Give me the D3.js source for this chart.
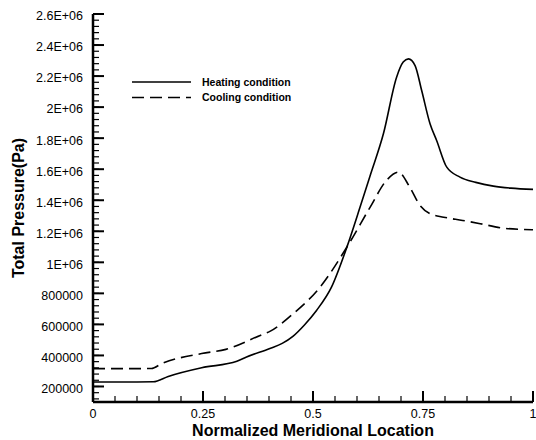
<!DOCTYPE html>
<html>
<head>
<meta charset="utf-8">
<script src="https://cdn.jsdelivr.net/npm/d3@7"></script>
<style>
	body { margin: 0; background: #fff; }
	svg { display: block; font-family: Arial, "Liberation Sans", sans-serif; }
</style>
</head>
<body>
<svg id="chart" width="536" height="440"></svg>
<script>
// location along the meridional direction (normalized)
var heatingX = [0, 0.05, 0.10, 0.137, 0.171, 0.247, 0.327, 0.349, 0.402, 0.430, 0.455, 0.480, 0.508, 0.542, 0.577, 0.607, 0.630, 0.660, 0.690, 0.705, 0.717, 0.732, 0.747, 0.766, 0.781, 0.804, 0.834, 0.870, 0.910, 0.950, 1.0];
var heatingP = [229000, 229000, 229000, 230000, 265000, 321000, 362000, 390000, 445000, 478000, 525000, 595000, 690000, 840000, 1098000, 1356000, 1560000, 1828000, 2193000, 2290000, 2311000, 2268000, 2107000, 1893000, 1785000, 1613000, 1549000, 1515000, 1491000, 1478000, 1470000];

var coolingX = [0, 0.05, 0.10, 0.133, 0.156, 0.247, 0.302, 0.380, 0.402, 0.455, 0.516, 0.577, 0.630, 0.667, 0.694, 0.720, 0.743, 0.766, 0.797, 0.840, 0.880, 0.933, 1.0];
var coolingP = [315000, 315000, 315000, 316000, 347000, 412000, 439000, 529000, 555000, 669000, 840000, 1098000, 1356000, 1528000, 1581000, 1484000, 1367000, 1313000, 1291000, 1270000, 1249000, 1220000, 1210000];

var xTicks = [0, 0.25, 0.5, 0.75, 1];
var xTickLabels = ["0", "0.25", "0.5", "0.75", "1"];
var yTicks = [200000, 400000, 600000, 800000, 1000000, 1200000, 1400000, 1600000, 1800000, 2000000, 2200000, 2400000, 2600000];
var yTickLabels = ["200000", "400000", "600000", "800000", "1E+06", "1.2E+06", "1.4E+06", "1.6E+06", "1.8E+06", "2E+06", "2.2E+06", "2.4E+06", "2.6E+06"];

var seriesNames = ["Heating condition", "Cooling condition"];

var svg = d3.select("#chart");
var margin = {left: 93, right: 3, top: 14, bottom: 38};
var width = 536, height = 440;

var x = d3.scaleLinear().domain([0, 1]).range([margin.left, width - margin.right]);
var y = d3.scaleLinear().domain([100000, 2600000]).range([height - margin.bottom, margin.top]);

// minor ticks
var xMinor = d3.range(0, 1.0001, 0.05);
var yMinor = d3.range(120000, 2600001, 40000);

var axisG = svg.append("g").attr("stroke", "#000");

axisG.selectAll(".xminor")
	.data(xMinor)
	.enter()
	.append("line")
	.attr("x1", function(d) { return x(d); })
	.attr("x2", function(d) { return x(d); })
	.attr("y1", y(100000))
	.attr("y2", y(100000) - 6)
	.attr("stroke-width", 1.2);

axisG.selectAll(".xmajor")
	.data(xTicks)
	.enter()
	.append("line")
	.attr("x1", function(d) { return x(d); })
	.attr("x2", function(d) { return x(d); })
	.attr("y1", y(100000))
	.attr("y2", y(100000) - 11)
	.attr("stroke-width", 2);

axisG.selectAll(".yminor")
	.data(yMinor)
	.enter()
	.append("line")
	.attr("x1", x(0))
	.attr("x2", x(0) + 6)
	.attr("y1", function(d) { return y(d); })
	.attr("y2", function(d) { return y(d); })
	.attr("stroke-width", 1.2);

axisG.selectAll(".ymajor")
	.data(yTicks)
	.enter()
	.append("line")
	.attr("x1", x(0))
	.attr("x2", x(0) + 11)
	.attr("y1", function(d) { return y(d); })
	.attr("y2", function(d) { return y(d); })
	.attr("stroke-width", 2);

// axis lines
axisG.append("line")
	.attr("x1", x(0)).attr("x2", x(1))
	.attr("y1", y(100000)).attr("y2", y(100000))
	.attr("stroke-width", 2.5);
axisG.append("line")
	.attr("x1", x(0)).attr("x2", x(0))
	.attr("y1", y(100000)).attr("y2", y(2600000))
	.attr("stroke-width", 2.5);

// tick labels
svg.selectAll(".xlab")
	.data(xTicks)
	.enter()
	.append("text")
	.attr("x", function(d) { return x(d); })
	.attr("y", y(100000) + 15.5)
	.attr("text-anchor", "middle")
	.attr("font-size", 12.5)
	.text(function(d, i) { return xTickLabels[i]; });

svg.selectAll(".ylab")
	.data(yTicks)
	.enter()
	.append("text")
	.attr("x", x(0) - 10)
	.attr("y", function(d) { return y(d) + 2; })
	.attr("dy", "0.35em")
	.attr("text-anchor", "end")
	.attr("font-size", 12.5)
	.text(function(d, i) { return yTickLabels[i]; });

// axis titles
svg.append("text")
	.attr("x", (x(0) + x(1)) / 2)
	.attr("y", 436)
	.attr("text-anchor", "middle")
	.attr("font-size", 16)
	.attr("font-weight", "bold")
	.text("Normalized Meridional Location");

svg.append("text")
	.attr("transform", "translate(24," + ((y(100000) + y(2600000)) / 2) + ") rotate(-90)")
	.attr("text-anchor", "middle")
	.attr("font-size", 16)
	.attr("font-weight", "bold")
	.text("Total Pressure(Pa)");

// curves
var line = d3.line()
	.x(function(d) { return x(d[0]); })
	.y(function(d) { return y(d[1]); })
	.curve(d3.curveMonotoneX);

var heating = heatingX.map(function(d, i) { return [d, heatingP[i]]; });
var cooling = coolingX.map(function(d, i) { return [d, coolingP[i]]; });

svg.append("path")
	.datum(heating)
	.attr("d", line)
	.attr("fill", "none")
	.attr("stroke", "#000")
	.attr("stroke-width", 1.6);

svg.append("path")
	.datum(cooling)
	.attr("d", line)
	.attr("fill", "none")
	.attr("stroke", "#000")
	.attr("stroke-width", 1.6)
	.attr("stroke-dasharray", "12,6");

// legend
var legend = svg.append("g");
var dashes = ["none", "12,6"];
seriesNames.forEach(function(name, i) {
	var ly = 82 + i * 15.5;
	legend.append("line")
		.attr("x1", 132).attr("x2", 191)
		.attr("y1", ly).attr("y2", ly)
		.attr("stroke", "#000")
		.attr("stroke-width", 1.6)
		.attr("stroke-dasharray", dashes[i]);
	legend.append("text")
		.attr("x", 202)
		.attr("y", ly)
		.attr("dy", "0.35em")
		.attr("font-size", 10.5)
		.attr("font-weight", "bold")
		.text(name);
});
</script>
</body>
</html>
